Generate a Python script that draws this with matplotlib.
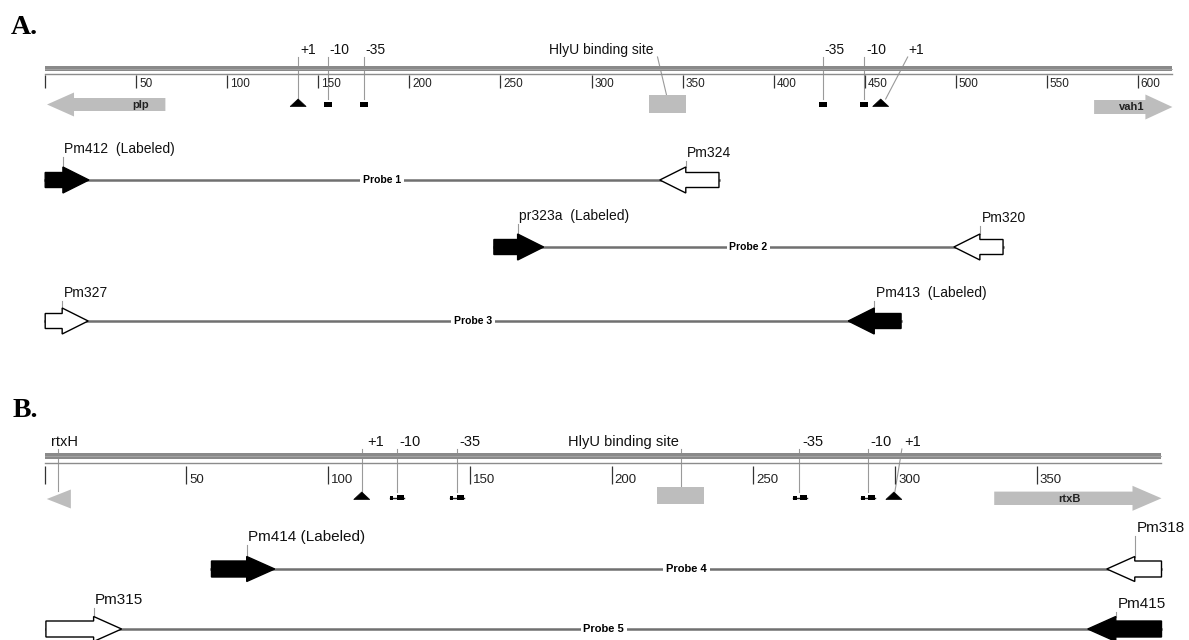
import matplotlib
matplotlib.use("Agg")
import matplotlib.pyplot as plt
from matplotlib.patches import Polygon, Rectangle

plt.rcParams['font.family'] = ['Liberation Sans', 'DejaVu Sans']

# ---------------- data (base pairs) ----------------
# Panel A
A_RULER_END = 619
A_TICKS = [0, 50, 100, 150, 200, 250, 300, 350, 400, 450, 500, 550, 600]
A_TICK_LABELS = ['', '50', '100', '150', '200', '250', '300', '350', '400',
                 '450', '500', '550', '600']
A_GENE_NAMES = ['plp', 'vah1']
A_GENE_START = [1, 576]
A_GENE_END = [66, 619]
A_GENE_DIR = [-1, 1]
A_HLYU = [331.5, 352]
A_SITE_NAMES = ['+1', '-10', '-35', '-35', '-10', '+1']
A_SITE_BP = [138.9, 155.3, 174.8, 426.9, 449.9, 458.8]
A_SITE_KIND = ['tss', 'box', 'box', 'box', 'box', 'tss']
A_PROBES = ['Probe 1', 'Probe 2', 'Probe 3']
A_FWD_NAMES = ['Pm412  (Labeled)', 'pr323a  (Labeled)', 'Pm327']
A_FWD_START = [0, 246.4, 0]
A_FWD_END = [24.0, 273.7, 23.6]
A_FWD_LABELED = [True, True, False]
A_REV_NAMES = ['Pm324', 'Pm320', 'Pm413  (Labeled)']
A_REV_START = [337.5, 499, 441]
A_REV_END = [370, 526, 470]
A_REV_LABELED = [False, False, True]

# Panel B
B_RULER_END = 394
B_TICKS = [0, 50, 100, 150, 200, 250, 300, 350]
B_TICK_LABELS = ['', '50', '100', '150', '200', '250', '300', '350']
B_GENE_NAMES = ['rtxH', 'rtxB']
B_GENE_START = [0.8, 335]
B_GENE_END = [9.3, 394]
B_GENE_DIR = [-1, 1]
B_HLYU = [216, 232.5]
B_SITE_NAMES = ['+1', '-10', '-35', '-35', '-10', '+1']
B_SITE_BP = [111.9, 124.3, 145.4, 266.6, 290.5, 299.6]
B_SITE_KIND = ['tss', 'box', 'box', 'box', 'box', 'tss']
B_PROBES = ['Probe 4', 'Probe 5']
B_FWD_NAMES = ['Pm414 (Labeled)', 'Pm315']
B_FWD_START = [58.9, 0.5]
B_FWD_END = [81.2, 27.2]
B_FWD_LABELED = [True, False]
B_REV_NAMES = ['Pm318', 'Pm415']
B_REV_START = [374.7, 368]
B_REV_END = [394, 394]
B_REV_LABELED = [False, True]

# ---------------- layout ----------------
W, H, DPI = 1189, 640, 100
GENE_GREY = '#bdbdbd'
RULER_GREY = '#8a8a8a'
LEADER = '#9a9a9a'
LINE_GREY = '#707070'

fig = plt.figure(figsize=(W / DPI, H / DPI), dpi=DPI)
fig.patch.set_facecolor('white')


def make_axes(top_px, bot_px, x0_px, px_per_bp):
    ax = fig.add_axes([0, 1 - bot_px / H, 1, (bot_px - top_px) / H])
    ax.set_xlim(-x0_px / px_per_bp, (W - x0_px) / px_per_bp)
    ax.set_ylim(bot_px, top_px)
    ax.axis('off')
    return ax


def px2bp(ax, px):
    ppb = W / (ax.get_xlim()[1] - ax.get_xlim()[0])
    return px / ppb


def harrow(ax, start, end, direction, y, bh, hh, hl_px, fc, ec, lw=1.0, z=3):
    hl = min(px2bp(ax, hl_px), end - start)
    if direction > 0:
        t, tip, s = start, end, end - hl
    else:
        t, tip, s = end, start, start + hl
    pts = [(t, y - bh), (s, y - bh), (s, y - hh), (tip, y), (s, y + hh),
           (s, y + bh), (t, y + bh)]
    if hl >= end - start - 1e-9:
        pts = [(s, y - hh), (tip, y), (s, y + hh)]
    ax.add_patch(Polygon(pts, closed=True, fc=fc, ec=ec, lw=lw, zorder=z,
                         joinstyle='miter'))
    return s


def draw_panel(ax, ruler_end, ticks, tick_labels, ruler_y, tick_fs,
               gene_names, gs, ge, gd, gene_y, gene_hl,
               hlyu, hlyu_y, sites, kinds, site_bp, site_y, label_y, lab_fs,
               site_cfg, hly_cfg, box_style):
    band_top, band_bot, thin_y, tick_top, tick_bot = ruler_y
    ax.add_patch(Rectangle((0, band_top), ruler_end, band_bot - band_top,
                           fc=RULER_GREY, ec='none', zorder=2))
    ax.plot([0, ruler_end], [(band_top + band_bot) / 2] * 2, color='#a8a8a8',
            lw=0.6, zorder=2)
    ax.plot([0, ruler_end], [thin_y, thin_y], color='#8c8c8c', lw=1.0, zorder=2)
    ax.vlines(ticks, tick_top, tick_bot, color='#333333', lw=0.9, zorder=2)
    for t, lab in zip(ticks, tick_labels):
        if lab:
            ax.text(t + px2bp(ax, 3), tick_bot - 4, lab, fontsize=tick_fs,
                    color='#222222', ha='left', va='center')
    for name, a, b, d, gy in zip(gene_names, gs, ge, gd, gene_y):
        harrow(ax, a, b, d, gy[0], gy[1], gy[2], gene_hl, GENE_GREY, 'none', 0)
    ax.add_patch(Rectangle((hlyu[0], hlyu_y[0]), hlyu[1] - hlyu[0],
                           hlyu_y[1] - hlyu_y[0], fc=GENE_GREY, ec='none',
                           zorder=3))
    hc = (hlyu[0] + hlyu[1]) / 2
    ax.text(hc + px2bp(ax, hly_cfg[0]), label_y, 'HlyU binding site',
            fontsize=lab_fs, ha='right', va='center', color='#111111')
    ax.plot([hc + px2bp(ax, hly_cfg[1]), hc + px2bp(ax, hly_cfg[2])],
            [label_y + 7, hlyu_y[0]], color=LEADER, lw=0.8, zorder=1)
    for name, kind, bp, cfg in zip(sites, kinds, site_bp, site_cfg):
        ldx, top_dx, bot_dx = cfg
        ax.text(bp + px2bp(ax, ldx), label_y, name, fontsize=lab_fs,
                ha='left', va='center', color='#111111')
        ax.plot([bp + px2bp(ax, top_dx), bp + px2bp(ax, bot_dx)],
                [label_y + 7, site_y - 5], color=LEADER, lw=0.8, zorder=1)
        if kind == 'tss':
            w = px2bp(ax, 8)
            ax.add_patch(Polygon([(bp - w, site_y + 2.5), (bp, site_y - 5),
                                  (bp + w, site_y + 2.5)], closed=True,
                                 fc='black', ec='black', lw=0.5, zorder=4))
        else:
            if box_style == 'single':
                w = px2bp(ax, 8)
                ax.add_patch(Rectangle((bp - w / 2, site_y - 2), w, 4.5,
                                       fc='black', ec='none', zorder=4))
            else:
                a = bp - px2bp(ax, 7)
                b = bp + px2bp(ax, 7)
                ax.plot([a, b], [site_y + 0.5, site_y + 0.5], color='#222222',
                        lw=1.0, zorder=4)
                ax.add_patch(Rectangle((a, site_y - 1.5), px2bp(ax, 3.5), 4,
                                       fc='black', ec='none', zorder=4))
                ax.add_patch(Rectangle((b - px2bp(ax, 7), site_y - 2),
                                       px2bp(ax, 7), 5, fc='black', ec='none',
                                       zorder=4))


def draw_probes(ax, probes, rows_y, fn, fs_, fe, fl, rn, rs, re_, rl,
                bh, hh, hl_px, lab_fs, probe_fs, fwd_dy, rev_dy):
    for i, y in enumerate(rows_y):
        ax.plot([fs_[i], re_[i]], [y, y], color=LINE_GREY, lw=1.8, zorder=2)
        mid = (fs_[i] + re_[i]) / 2
        ax.text(mid, y, probes[i], fontsize=probe_fs, fontweight='bold',
                ha='center', va='center', zorder=5,
                bbox=dict(boxstyle='square,pad=0.25', fc='white', ec='none'))
        fc = 'black' if fl[i] else 'white'
        sh = harrow(ax, fs_[i], fe[i], 1, y, bh, hh, hl_px, fc, 'black', 1.0, 4)
        ty = y + fwd_dy[i]
        ax.plot([sh, sh], [ty + 8, y - hh], color=LEADER, lw=0.8, zorder=3)
        ax.text(sh + px2bp(ax, 1.5), ty, fn[i], fontsize=lab_fs, ha='left',
                va='center', color='#111111')
        fc = 'black' if rl[i] else 'white'
        sh = harrow(ax, rs[i], re_[i], -1, y, bh, hh, hl_px, fc, 'black', 1.0, 4)
        ty = y + rev_dy[i]
        ax.plot([sh, sh], [ty + 8, y - hh], color=LEADER, lw=0.8, zorder=3)
        ax.text(sh + px2bp(ax, 1.5), ty, rn[i], fontsize=lab_fs, ha='left',
                va='center', color='#111111')


# ---------------- Panel A ----------------
axA = make_axes(0, 380, 45.2, 1.821)
fig.text(11 / W, 1 - 34 / H, 'A.', fontsize=20, fontweight='bold',
         family=['Liberation Serif', 'DejaVu Serif'], ha='left', va='baseline')
draw_panel(axA, A_RULER_END, A_TICKS, A_TICK_LABELS, (66, 71, 73.5, 74.5, 88), 8.5,
           A_GENE_NAMES, A_GENE_START, A_GENE_END, A_GENE_DIR,
           [(104.5, 6.5, 12), (107, 7, 12.5)], 27,
           A_HLYU, (95, 112.5), A_SITE_NAMES, A_SITE_KIND, A_SITE_BP, 104, 50, 10,
           [(2, 0, 0), (1.5, 0, 0), (1.5, 0, 0), (2, 0, 0), (2, 0, 0), (28, 27, 5)],
           (-14, -10, -1), 'single')
for name, a, b, dx, gy in zip(A_GENE_NAMES, A_GENE_START, A_GENE_END, [34, -2],
                              [105, 107.5]):
    axA.text((a + b) / 2 + px2bp(axA, dx), gy, name, fontsize=8,
             fontweight='bold', ha='center', va='center', color='#222222',
             zorder=5)
draw_probes(axA, A_PROBES, [180, 247, 321], A_FWD_NAMES, A_FWD_START, A_FWD_END,
            A_FWD_LABELED, A_REV_NAMES, A_REV_START, A_REV_END, A_REV_LABELED,
            7.5, 13, 26, 10, 7.5, [-31, -31, -28], [-27, -29, -28])

# ---------------- Panel B ----------------
axB = make_axes(380, 640, 44.5, 2.835)
fig.text(13 / W, 1 - 417 / H, 'B.', fontsize=20, fontweight='bold',
         family=['Liberation Serif', 'DejaVu Serif'], ha='left', va='baseline')
draw_panel(axB, B_RULER_END, B_TICKS, B_TICK_LABELS, (453, 459, 462.5, 466, 484), 9.5,
           B_GENE_NAMES, B_GENE_START, B_GENE_END, B_GENE_DIR,
           [(499, 9.5, 9.5), (498.3, 6.7, 12.5)], 29,
           B_HLYU, (486.7, 504), B_SITE_NAMES, B_SITE_KIND, B_SITE_BP, 497, 442, 10.5,
           [(5.5, 0, 0), (2.5, 0, 0), (2.5, 0, 0), (2.5, -1, -1), (2.5, 0, 0), (10, 8, 1)],
           (-1, 0.5, 0.5), 'double')
rtxh_x = B_GENE_START[0] + px2bp(axB, 11)
axB.text(rtxh_x - px2bp(axB, 7), 442, B_GENE_NAMES[0], fontsize=10.5, ha='left',
         va='center', color='#111111')
axB.plot([rtxh_x, rtxh_x], [449, 491], color=LEADER, lw=0.8, zorder=1)
axB.text((B_GENE_START[1] + B_GENE_END[1]) / 2 - px2bp(axB, 8), 498.5,
         B_GENE_NAMES[1], fontsize=8, fontweight='bold', ha='center',
         va='center', color='#222222', zorder=5)
draw_probes(axB, B_PROBES, [569, 629], B_FWD_NAMES, B_FWD_START, B_FWD_END,
            B_FWD_LABELED, B_REV_NAMES, B_REV_START, B_REV_END, B_REV_LABELED,
            8, 12.5, 28, 11, 8, [-32, -29], [-41, -25])

fig.savefig('out.png', dpi=DPI, facecolor='white')
